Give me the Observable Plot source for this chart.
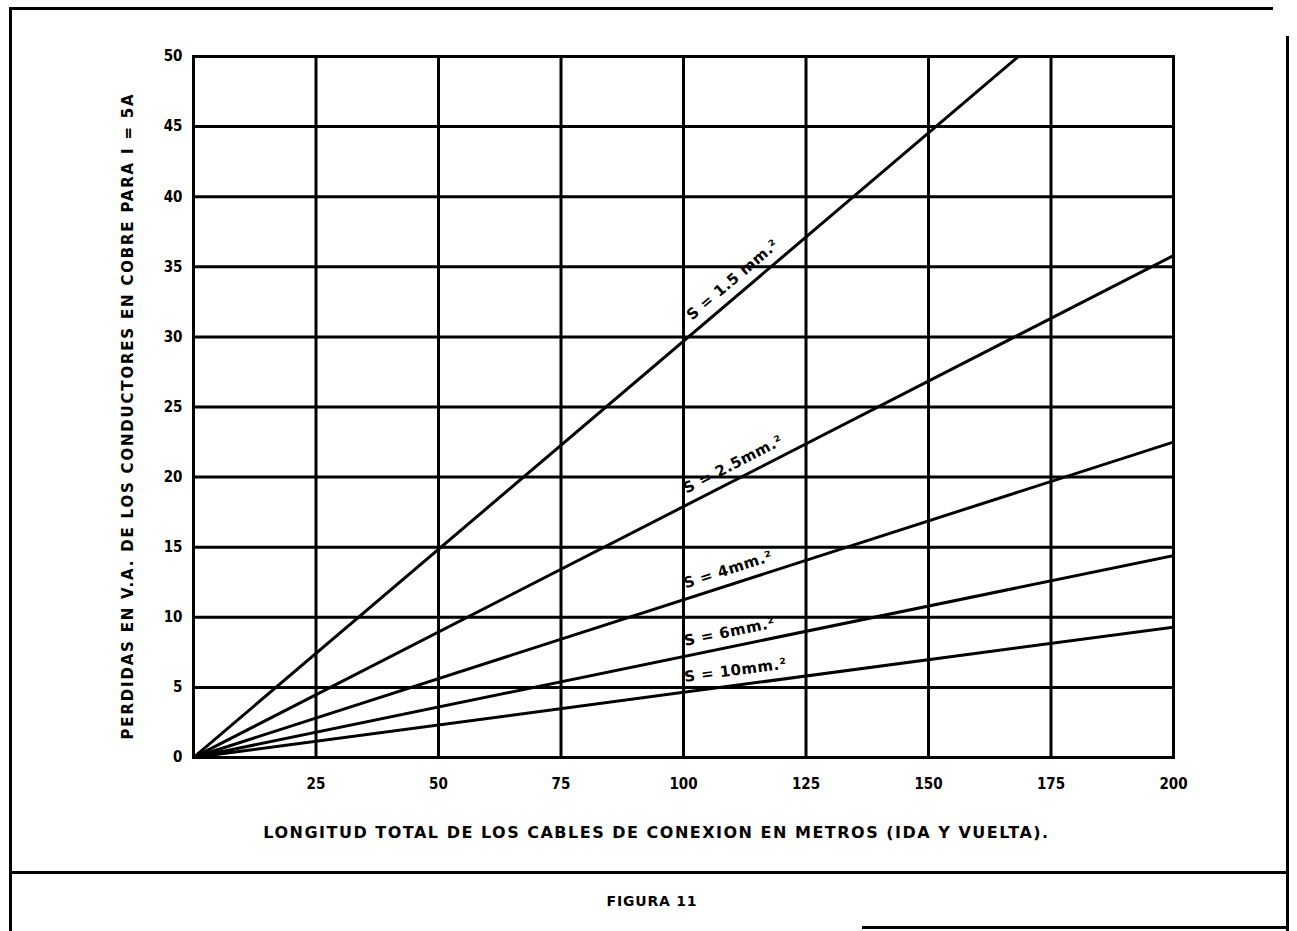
<!DOCTYPE html>
<html><head><meta charset="utf-8">
<script src="https://cdn.jsdelivr.net/npm/d3@7"></script>
<script src="https://cdn.jsdelivr.net/npm/@observablehq/plot@0.6"></script>
<style>
body{margin:0;background:#fff;width:1297px;height:931px;position:relative;overflow:hidden;}
#chart{position:absolute;left:0;top:0;}
.rule{position:absolute;background:#000;}
#caption{position:absolute;left:0;top:893px;width:1304px;text-align:center;font:bold 14px "DejaVu Sans",sans-serif;letter-spacing:0.8px;color:#000;}
</style></head><body>
<div id="chart"></div>
<div class="rule" style="left:9px;top:7px;width:1264px;height:3px"></div>
<div class="rule" style="left:9px;top:7px;width:3px;height:924px"></div>
<div class="rule" style="left:1286px;top:36px;width:3px;height:895px"></div>
<div class="rule" style="left:9px;top:871px;width:1280px;height:3px"></div>
<div class="rule" style="left:862px;top:926px;width:427px;height:3px"></div>
<div id="caption">FIGURA 11</div>
<script>
// Data
const lengths = [0, 200];                       // metres (x extent of each line)
const sections = ["S = 1.5 mm.²", "S = 2.5mm.²", "S = 4mm.²", "S = 6mm.²", "S = 10mm.²"];
const lossAt200 = [59.4, 35.8, 22.5, 14.4, 9.3]; // V.A. at 200 m
const labelAtX = [112, 111.5, 110, 110, 111];    // where each label sits along its line
const xTicks = [25, 50, 75, 100, 125, 150, 175, 200];
const yTicks = [0, 5, 10, 15, 20, 25, 30, 35, 40, 45, 50];
const xTitle = "LONGITUD TOTAL DE LOS CABLES DE CONEXION EN METROS (IDA Y VUELTA).";
const yTitle = "PERDIDAS EN V.A. DE LOS CONDUCTORES EN COBRE PARA I = 5A";

const W = 1297, H = 870;
const mL = 193, mR = 124, mT = 56, mB = 113;
const plotW = W - mL - mR, plotH = H - mT - mB;

const lineRows = sections.flatMap((s, i) =>
  lengths.map(L => ({section: s, x: L, y: lossAt200[i] * L / 200})));

const labelMarks = sections.map((s, i) => {
  const slopePx = (lossAt200[i] / 50 * plotH) / plotW;
  const ang = Math.atan(slopePx);
  const off = 10;
  return Plot.text([{s, x: labelAtX[i], y: lossAt200[i] * labelAtX[i] / 200}], {
    x: "x", y: "y", text: "s", rotate: -ang * 180 / Math.PI,
    lineAnchor: "bottom", textAnchor: "middle",
    dx: -off * Math.sin(ang), dy: -off * Math.cos(ang),
    fontSize: 15, fontWeight: "bold", fill: "#000",
    fontFamily: "DejaVu Sans"
  });
});

const chart = Plot.plot({
  width: W, height: H,
  marginLeft: mL, marginRight: mR, marginTop: mT, marginBottom: mB,
  style: {fontFamily: "DejaVu Sans Condensed", fontWeight: "bold", color: "#000", background: "transparent"},
  x: {domain: [0, 200]},
  y: {domain: [0, 50]},
  marks: [
    Plot.gridX(xTicks, {stroke: "#000", strokeOpacity: 1, strokeWidth: 3}),
    Plot.gridY(yTicks, {stroke: "#000", strokeOpacity: 1, strokeWidth: 3}),
    Plot.frame({stroke: "#000", strokeWidth: 3}),
    Plot.axisX(xTicks, {tickSize: 0, tickPadding: 21, fontSize: 15, label: null}),
    Plot.axisY(yTicks, {tickSize: 0, tickPadding: 11, fontSize: 15, label: null}),
    Plot.line(lineRows, {x: "x", y: "y", z: "section", stroke: "#000", strokeWidth: 3, clip: true}),
    ...labelMarks,
    Plot.text([xTitle], {text: d => d, frameAnchor: "bottom", dx: -27, dy: 75,
      textAnchor: "middle", lineAnchor: "middle", fontSize: 16, fontWeight: "bold", fontFamily: "DejaVu Sans"}),
    Plot.text([yTitle], {text: d => d, frameAnchor: "left", rotate: -90, dx: -65, dy: 9,
      textAnchor: "middle", lineAnchor: "middle", fontSize: 15, fontWeight: "bold", fontFamily: "DejaVu Sans"})
  ]
});
d3.select(chart).selectAll("text").each(function() {
  const t = this.textContent;
  if (t === xTitle) d3.select(this).attr("letter-spacing", "1.5px");
  else if (t === yTitle) d3.select(this).attr("letter-spacing", "1.8px");
  else if (sections.includes(t)) d3.select(this).attr("letter-spacing", "0.5px");
});
document.getElementById("chart").appendChild(chart);
</script>
</body></html>
